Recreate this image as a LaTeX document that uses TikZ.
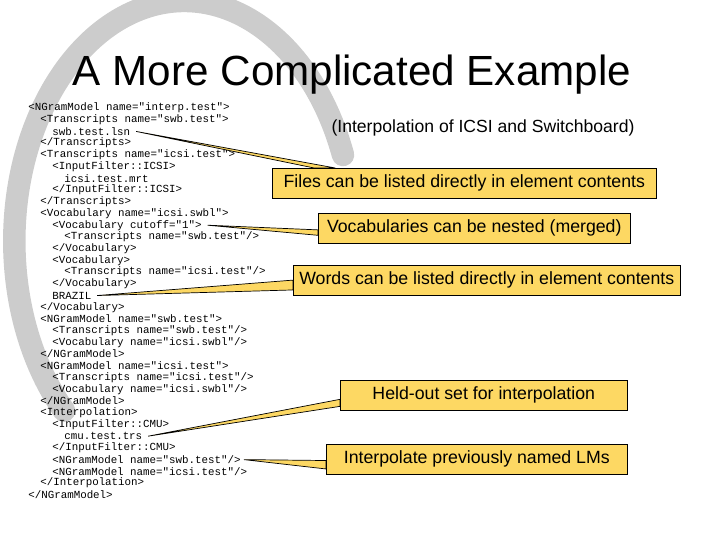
\documentclass[tikz,border=0pt]{standalone}
\usepackage{fontspec}
\setmainfont{Liberation Sans}
\setmonofont{Liberation Mono}
\usetikzlibrary{positioning}

\begin{document}
\begin{tikzpicture}[x=0.025cm,y=-0.025cm]
  \tikzstyle{note}=[rectangle,draw,fill=yellow!55!orange!60,inner xsep=4pt,font=\fontsize{12.6}{14}\selectfont,anchor=north west,minimum height=0.75cm]
  \tikzstyle{wedge}=[draw,fill=yellow!55!orange!60,line width=0.5pt]
  \tikzstyle{code}=[anchor=west,inner sep=0pt,font=\ttfamily\fontsize{7.7}{8}\selectfont]
  \useasboundingbox (0,0) rectangle (720,540);
  % swoosh in the background
  \draw [gray!40,line width=16pt,line cap=round] (343,155) arc (-21:-225:170 and 240);
  \node [font=\fontsize{30}{34}\selectfont] (title) at (352,75) {A More Complicated Example};
  \node [font=\fontsize{12.5}{14}\selectfont] (sub) at (483,128) {(Interpolation of ICSI and Switchboard)};
  % listing
  \foreach \lvl/\txt [count=\i from 0] in {
    0/{<NGramModel name="interp.test">},
    1/{<Transcripts name="swb.test">},
    2/{swb.test.lsn},
    1/{</Transcripts>},
    1/{<Transcripts name="icsi.test">},
    2/{<InputFilter::ICSI>},
    3/{icsi.test.mrt},
    2/{</InputFilter::ICSI>},
    1/{</Transcripts>},
    1/{<Vocabulary name="icsi.swbl">},
    2/{<Vocabulary cutoff="1">},
    3/{<Transcripts name="swb.test"/>},
    2/{</Vocabulary>},
    2/{<Vocabulary>},
    3/{<Transcripts name="icsi.test"/>},
    2/{</Vocabulary>},
    2/{BRAZIL},
    1/{</Vocabulary>},
    1/{<NGramModel name="swb.test">},
    2/{<Transcripts name="swb.test"/>},
    2/{<Vocabulary name="icsi.swbl"/>},
    1/{</NGramModel>},
    1/{<NGramModel name="icsi.test">},
    2/{<Transcripts name="icsi.test"/>},
    2/{<Vocabulary name="icsi.swbl"/>},
    1/{</NGramModel>},
    1/{<Interpolation>},
    2/{<InputFilter::CMU>},
    3/{cmu.test.trs},
    2/{</InputFilter::CMU>},
    2/{<NGramModel name="swb.test"/>},
    2/{<NGramModel name="icsi.test"/>},
    1/{</Interpolation>},
    0/{</NGramModel>}}
    \node [code] (l\i) at (28+12*\lvl,108+11.72*\i) {\txt};
  % callouts
  \node [note,minimum width=384*0.025cm] (files) at (272,168) {Files can be listed directly in element contents};
  \node [note,minimum width=312*0.025cm] (vocab) at (318,213) {Vocabularies can be nested (merged)};
  \node [note,minimum width=387*0.025cm] (words) at (293,265) {Words can be listed directly in element contents};
  \node [note,minimum width=287*0.025cm] (held) at (340,380) {Held-out set for interpolation};
  \node [note,minimum width=301*0.025cm] (interp) at (326,444) {Interpolate previously named LMs};
  \coordinate (tfiles)  at ([xshift=4pt]l2.east);
  \coordinate (tvocab)  at ([xshift=4pt]l10.east);
  \coordinate (twords)  at ([xshift=4pt]l16.east);
  \coordinate (theld)   at ([xshift=4pt]l28.east);
  \coordinate (tinterp) at ([xshift=2pt]l30.east);
  \draw [wedge] (tfiles) -- ([xshift=30pt]files.north west) -- ([xshift=45pt]files.north west) -- cycle;
  \draw [wedge] (tvocab) -- ([yshift=-5pt]vocab.west) -- ([yshift=-12pt]vocab.north west) -- cycle;
  \draw [wedge] (twords) -- ([yshift=4pt]words.south west) -- ([yshift=11pt]words.south west) -- cycle;
  \draw [wedge] (theld) -- ([yshift=3pt]held.south west) -- ([yshift=8pt]held.south west) -- cycle;
  \draw [wedge] (tinterp) -- ([yshift=4pt]interp.south west) -- ([yshift=10pt]interp.south west) -- cycle;
  % redraw boxes over the wedges
  \node [note,minimum width=384*0.025cm] at (272,168) {Files can be listed directly in element contents};
  \node [note,minimum width=312*0.025cm] at (318,213) {Vocabularies can be nested (merged)};
  \node [note,minimum width=387*0.025cm] at (293,265) {Words can be listed directly in element contents};
  \node [note,minimum width=287*0.025cm] at (340,380) {Held-out set for interpolation};
  \node [note,minimum width=301*0.025cm] at (326,444) {Interpolate previously named LMs};
\end{tikzpicture}
\end{document}
